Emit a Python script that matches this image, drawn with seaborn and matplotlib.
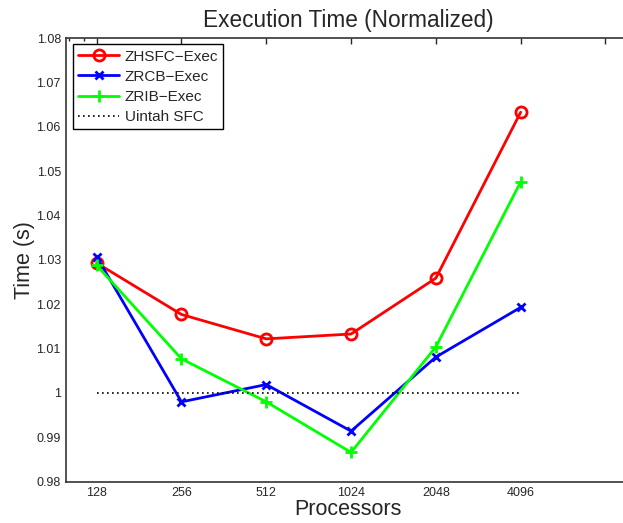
import pandas as pd
import matplotlib
matplotlib.use("Agg")
import matplotlib.pyplot as plt
import seaborn as sns

# %% data
processors = [128, 256, 512, 1024, 2048, 4096]
zhsfc_exec = [1.0293, 1.0177, 1.0122, 1.0133, 1.0259, 1.0633]
zrcb_exec = [1.0307, 0.9980, 1.0019, 0.9914, 1.0081, 1.0193]
zrib_exec = [1.0288, 1.0077, 0.9980, 0.9866, 1.0104, 1.0476]
uintah_sfc = [1.0, 1.0, 1.0, 1.0, 1.0, 1.0]

x_ticks = [128, 256, 512, 1024, 2048, 4096, 8192]
x_ticklabels = ["128", "256", "512", "1024", "2048", "4096", ""]
y_ticks = [0.98, 0.99, 1.00, 1.01, 1.02, 1.03, 1.04, 1.05, 1.06, 1.07, 1.08]
y_ticklabels = ["0.98", "0.99", "1", "1.01", "1.02", "1.03", "1.04", "1.05", "1.06", "1.07", "1.08"]

df = pd.DataFrame({
    "Processors": processors,
    "ZHSFC−Exec": zhsfc_exec,
    "ZRCB−Exec": zrcb_exec,
    "ZRIB−Exec": zrib_exec,
    "Uintah SFC": uintah_sfc,
})

# %% estilo
sns.set_theme(style="white")
plt.rcParams["font.family"] = ["Liberation Sans", "DejaVu Sans"]

fig = plt.figure(figsize=(6.23, 5.23), dpi=100)
ax = fig.add_axes([0.1067, 0.079, 0.9043, 0.848])
ax.set_xscale("log", base=2)

sns.lineplot(x="Processors", y="ZHSFC−Exec", data=df, ax=ax, color="#ff0000", lw=2,
             marker="o", markersize=8, markerfacecolor="none", markeredgecolor="#ff0000",
             markeredgewidth=2, label="ZHSFC−Exec")
sns.lineplot(x="Processors", y="ZRCB−Exec", data=df, ax=ax, color="#0000ff", lw=2,
             marker="x", markersize=6, markeredgecolor="#0000ff", markeredgewidth=2,
             label="ZRCB−Exec")
sns.lineplot(x="Processors", y="ZRIB−Exec", data=df, ax=ax, color="#00ff00", lw=2,
             marker="+", markersize=8.5, markeredgecolor="#00ff00", markeredgewidth=2,
             label="ZRIB−Exec")
sns.lineplot(x="Processors", y="Uintah SFC", data=df, ax=ax, color="black", lw=1.2,
             linestyle=(0, (1, 2.0)), label="Uintah SFC")

ax.set_xlim(100, 10000)
ax.set_ylim(0.98, 1.08)
ax.set_xticks(x_ticks)
ax.set_xticklabels(x_ticklabels)
ax.set_xticks([102.4, 115.2], minor=True)
ax.set_xticklabels(["", ""], minor=True)
ax.set_yticks(y_ticks)
ax.set_yticklabels(y_ticklabels)

ax.tick_params(axis="both", which="major", direction="in", length=4, width=1,
               top=True, right=True, labelsize=9, colors="#262626", pad=4)
ax.tick_params(axis="x", which="minor", direction="in", length=2, width=1, top=True)
for s in ax.spines.values():
    s.set_visible(True)
    s.set_color("#333333")
    s.set_linewidth(1.2)

ax.set_title("Execution Time (Normalized)", fontsize=16.3, pad=8)
ax.set_xlabel("Processors", fontsize=15.5, labelpad=0)
ax.set_ylabel("Time (s)", fontsize=15.5, labelpad=1)

leg = ax.legend(loc="upper left", fontsize=11, fancybox=False, framealpha=1,
                edgecolor="black", borderaxespad=0.4, handlelength=2.7,
                handletextpad=0.35, labelspacing=0.4, borderpad=0.35)
leg.get_frame().set_linewidth(1)

plt.savefig("out.png", dpi=100)
